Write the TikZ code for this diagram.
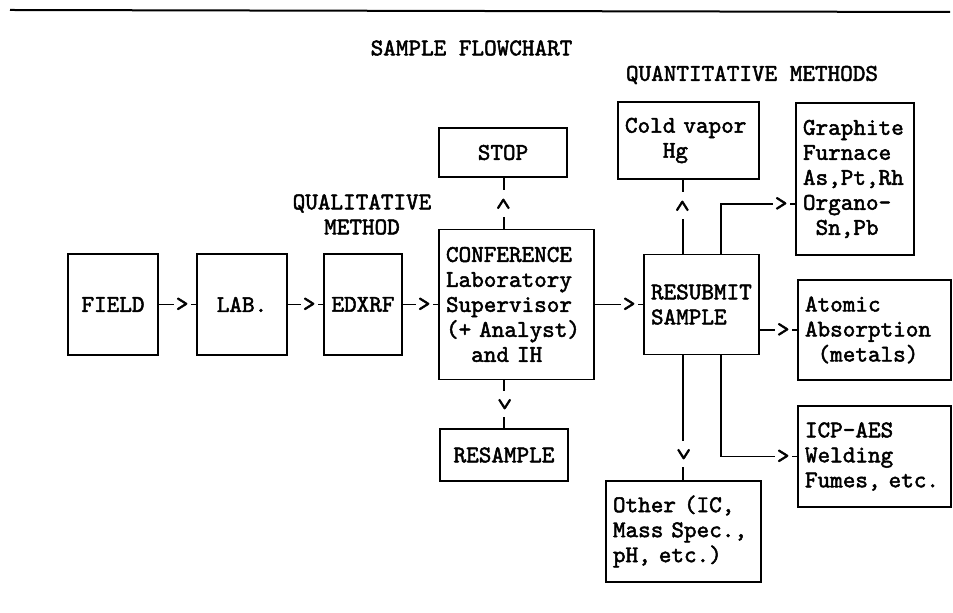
\documentclass[tikz,border=0pt]{standalone}
\usepackage{fontspec}
\setmonofont{lmmono10-regular.otf}[FakeBold=2]
\usetikzlibrary{calc}
\begin{document}
\begin{tikzpicture}[x=0.5pt,y=-0.5pt,
    font=\fontsize{12}{12.5}\selectfont\ttfamily,
    box/.style={draw,line width=0.8pt,inner sep=0pt,align=center},
    listbox/.style={draw,line width=0.8pt,inner xsep=3.5pt,inner ysep=0pt,align=left},
    link/.style={line width=0.8pt},
    chev/.style={fill=white,inner xsep=1pt,inner ysep=0pt},
    chevup/.style={chev,rotate=90,inner xsep=3.5pt},
    chevdown/.style={chev,rotate=-90,inner xsep=3.5pt},
    heading/.style={inner sep=0pt,align=center}
  ]
  \useasboundingbox (0,0) rectangle (953,613);

  % rule and headings
  \draw[line width=1pt] (10,10) -- (950,12);
  \node[heading] (title) at (471.5,48) {SAMPLE FLOWCHART};
  \node[heading] (quant) at (752,75) {QUANTITATIVE METHODS};
  \node[heading] (qual)  at (362,214.5) {QUALITATIVE\\METHOD};

  % main row
  \node[box,minimum width=45pt,minimum height=50.5pt] (field) at (113,304.5) {FIELD};
  \node[box,minimum width=45pt,minimum height=50.5pt] (lab)   at (242,304.5) {LAB.};
  \node[box,minimum width=39pt,minimum height=50.5pt] (edxrf) at (363,304.5) {EDXRF};
  \node[listbox,text width=70.5pt,minimum height=75pt] (conf) at (516.5,304.5)
       {CONFERENCE\\Laboratory\\Supervisor\\(+ Analyst)\\\phantom{aa}and IH};
  \node[box,minimum width=64pt,minimum height=24.5pt] (stop)     at (503,152.5) {STOP};
  \node[box,minimum width=64pt,minimum height=26pt]   (resample) at (504,455)   {RESAMPLE};

  % quantitative methods
  \node[listbox,text width=50.5pt,minimum height=50pt] (resub) at (701.5,304.5)
       {RESUBMIT\\SAMPLE};
  \node[listbox,text width=63.5pt,minimum height=38.5pt] (cold) at (688.5,140.5)
       {Cold vapor\\\phantom{aaa}Hg};
  \node[listbox,text width=52pt,minimum height=76pt] (graph) at (855,179)
       {Graphite\\Furnace\\As,Pt,Rh\\Organo-\\\phantom{a}Sn,Pb};
  \node[listbox,text width=69.5pt,minimum height=50pt] (atomic) at (874.5,330)
       {Atomic\\Absorption\\\phantom{a}(metals)};
  \node[listbox,text width=69.5pt,minimum height=50.5pt] (icp) at (874.5,456.5)
       {ICP-AES\\Welding\\Fumes, etc.};
  \node[listbox,text width=70.5pt,minimum height=50.5pt] (other) at (683.5,531.5)
       {Other (IC,\\Mass Spec.,\\pH, etc.)};

  % flow along the row
  \draw[link] (field.east) -- ($(lab.west)+(-14,0)$) node[chev]{>} -- (lab.west);
  \draw[link] (lab.east) -- ($(edxrf.west)+(-14,0)$) node[chev]{>} -- (edxrf.west);
  \draw[link] (edxrf.east) -- ($(conf.west)+(-14,0)$) node[chev]{>} -- (conf.west);
  \draw[link] (conf.east) -- ($(resub.west)+(-14,0)$) node[chev]{>} -- (resub.west);

  % conference exits
  \coordinate (confup) at ($(conf.north)+(-12.5,0)$);
  \coordinate (confdn) at ($(conf.south)+(-12.5,0)$);
  \draw[link] (confup) -- ($(confup |- stop.south)+(0,26)$) node[chevup]{>}
              -- (confup |- stop.south);
  \draw[link] (confdn) -- ($(confdn |- resample.north)+(0,-24)$) node[chevdown]{>}
              -- (confdn |- resample.north);

  % resubmit exits
  \coordinate (subnl) at ($(resub.north)+(-18.5,0)$);
  \coordinate (subnr) at ($(resub.north)+(19.5,0)$);
  \coordinate (subsl) at ($(resub.south)+(-18.5,0)$);
  \coordinate (subsr) at ($(resub.south)+(19.5,0)$);
  \draw[link] (subnl) -- ($(subnl |- cold.south)+(0,26)$) node[chevup]{>}
              -- (subnl |- cold.south);
  \draw[link] (subnr) |- ($(graph.west)+(-14,25)$) node[chev]{>}
              -- ($(graph.west)+(0,25)$);
  \draw[link] (resub.east |- atomic.west) -- ($(atomic.west)+(-14,0)$) node[chev]{>}
              -- (atomic.west);
  \draw[link] (subsr) |- ($(icp.west)+(-14,0)$) node[chev]{>} -- (icp.west);
  \draw[link] (subsl) -- ($(subsl |- other.north)+(0,-26)$) node[chevdown]{>}
              -- (subsl |- other.north);

\end{tikzpicture}
\end{document}
